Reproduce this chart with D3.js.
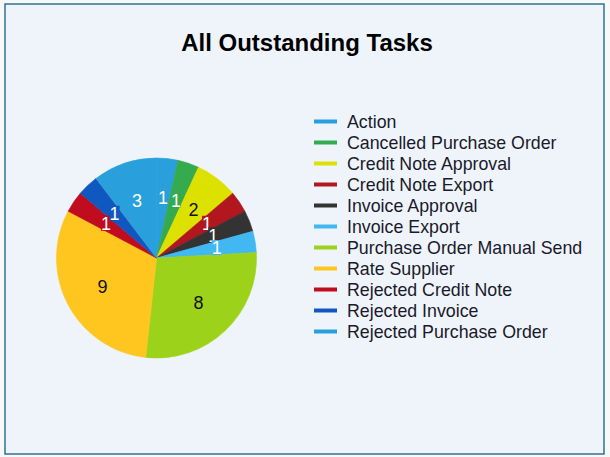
<!DOCTYPE html>
<html><head><meta charset="utf-8">
<script src="https://cdn.jsdelivr.net/npm/d3@7"></script>
<style>
html,body{margin:0;padding:0;background:#f8f8f8;}
svg{display:block;font-family:"Liberation Sans",Arial,sans-serif;}
</style></head>
<body>
<svg id="c" width="610" height="457"></svg>
<script>
const categories = ["Action","Cancelled Purchase Order","Credit Note Approval","Credit Note Export","Invoice Approval","Invoice Export","Purchase Order Manual Send","Rate Supplier","Rejected Credit Note","Rejected Invoice","Rejected Purchase Order"];
const values = [1,1,2,1,1,1,8,9,1,1,3];
const colors = ["#29a0db","#35aa4f","#dce100","#b2161e","#333333","#41b8f2","#9cd31a","#ffc620","#c00c1e","#1057bf","#29a0db"];
const labelColors = ["#fff","#fff","#111","#fff","#fff","#fff","#111","#111","#fff","#fff","#fff"];
const title = "All Outstanding Tasks";

const svg = d3.select("#c");
svg.append("rect").attr("x",5).attr("y",4).attr("width",599).attr("height",450)
  .attr("fill","#eff4fb").attr("stroke","#2c7394").attr("stroke-width",1.5);
svg.append("text").attr("x",307).attr("y",51).attr("text-anchor","middle")
  .attr("font-size",24).attr("font-weight","bold").attr("fill","#000").text(title);

const cx=156.5, cy=258, r=100;
const data = categories.map((c,i)=>({cat:c,value:values[i],color:colors[i],lc:labelColors[i]}));
const pie = d3.pie().sort(null).value(d=>d.value);
const arcs = pie(data);
const arc = d3.arc().innerRadius(0).outerRadius(r);
const larc = d3.arc().innerRadius(61).outerRadius(61);
const g = svg.append("g").attr("transform",`translate(${cx},${cy})`);
g.selectAll("path").data(arcs).join("path").attr("d",arc).attr("fill",d=>d.data.color)
  .attr("stroke",d=>d.data.color).attr("stroke-width",0.6);
const lg = g.selectAll("g.lab").data(arcs).join("g").attr("class","lab")
  .attr("transform",d=>{const p=larc.centroid(d);return `translate(${p[0]},${p[1]})`;});
lg.filter(d=>d.data.value===1).append("rect").attr("x",-5).attr("y",-8).attr("width",10).attr("height",15)
  .attr("fill",d=>d.data.color);
lg.append("text").attr("text-anchor","middle").attr("dy","0.35em").attr("font-size",18)
  .attr("fill",d=>d.data.lc).text(d=>d.data.value);

const legY = d3.scalePoint().domain(categories).range([120,330]);
const leg = svg.append("g");
const li = leg.selectAll("g").data(data).join("g").attr("transform",d=>`translate(0,${legY(d.cat)})`);
li.append("rect").attr("x",314).attr("y",-0.5).attr("width",23).attr("height",4).attr("fill",d=>d.color);
li.append("text").attr("x",347).attr("y",1.5).attr("dy","0.35em").attr("font-size",17.8).attr("fill","#1a1a2a").text(d=>d.cat);
</script>
</body></html>
